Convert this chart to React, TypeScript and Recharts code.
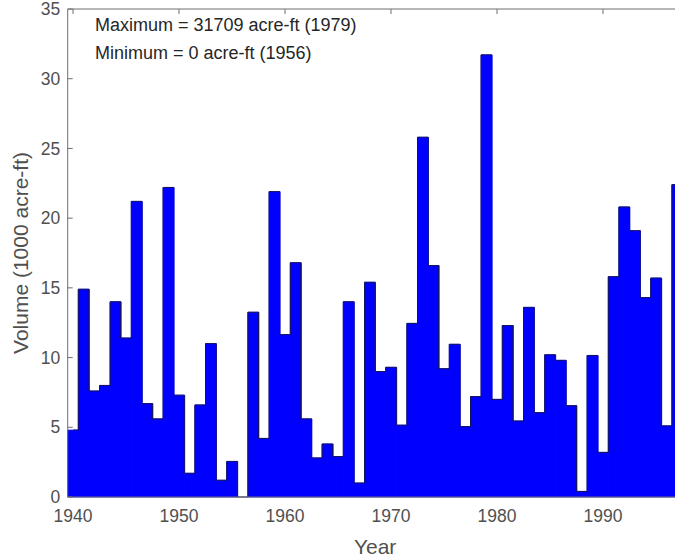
import { ComposedChart, Bar, Line, XAxis, YAxis, Label } from "recharts";

const years = [
  1940, 1941, 1942, 1943, 1944, 1945, 1946, 1947, 1948, 1949,
  1950, 1951, 1952, 1953, 1954, 1955, 1956, 1957, 1958, 1959,
  1960, 1961, 1962, 1963, 1964, 1965, 1966, 1967, 1968, 1969,
  1970, 1971, 1972, 1973, 1974, 1975, 1976, 1977, 1978, 1979,
  1980, 1981, 1982, 1983, 1984, 1985, 1986, 1987, 1988, 1989,
  1990, 1991, 1992, 1993, 1994, 1995, 1996, 1997,
];

// volume in 1000 acre-ft
const volumes = [
  4.8, 14.9, 7.6, 8.0, 14.0, 11.4, 21.2, 6.7, 5.6, 22.2,
  7.3, 1.7, 6.6, 11.0, 1.2, 2.55, 0, 13.25, 4.2, 21.9,
  11.65, 16.8, 5.6, 2.8, 3.8, 2.9, 14.0, 1.0, 15.4, 9.0,
  9.3, 5.15, 12.45, 25.8, 16.6, 9.2, 10.95, 5.05, 7.2, 31.709,
  7.0, 12.3, 5.45, 13.6, 6.05, 10.2, 9.8, 6.55, 0.4, 10.15,
  3.2, 15.8, 20.8, 19.1, 14.3, 15.7, 5.1, 22.4,
];

const yTicks = [0, 5, 10, 15, 20, 25, 30, 35];

const notes = ["Maximum = 31709 acre-ft (1979)", "Minimum = 0 acre-ft (1956)"];

const data = years.map((year, i) => ({ year, volume: volumes[i] }));

const axisGray = "#6e6e6e";
const textGray = "#505050";
const blue = "#0000ff";
const edge = "#14145a";

export default function App() {
  return (
    <div
      style={{
        position: "absolute",
        left: 0,
        top: 0,
        width: 675,
        height: 558,
        overflow: "hidden",
        background: "#fff",
        fontFamily: "'Liberation Sans', Arial, sans-serif",
      }}
    >
      <ComposedChart
        width={700}
        height={558}
        data={data}
        barCategoryGap={0}
        margin={{ top: 0, right: 17.5, bottom: 0, left: 0 }}
      >
        <XAxis
          dataKey="year"
          interval={9}
          height={61}
          tickLine={false}
          tickSize={0}
          tickMargin={13}
          axisLine={{ stroke: axisGray }}
          tick={{ fontSize: 17.5, fill: textGray }}
        >
          <Label
            value="Year"
            position="insideBottom"
            offset={4}
            style={{ fontSize: 21, fill: textGray }}
          />
        </XAxis>
        <XAxis
          xAxisId="top"
          orientation="top"
          dataKey="year"
          interval={9}
          height={9}
          tickSize={-5}
          tickFormatter={() => ""}
          axisLine={{ stroke: axisGray }}
          tickLine={{ stroke: axisGray }}
        />
        <YAxis
          domain={[0, 35]}
          ticks={yTicks}
          interval={0}
          width={67.7}
          tickSize={-5}
          tickMargin={12.5}
          axisLine={{ stroke: axisGray }}
          tickLine={{ stroke: axisGray }}
          tick={{ fontSize: 17.5, fill: textGray }}
        >
          <Label
            value="Volume (1000 acre-ft)"
            angle={-90}
            position="center"
            dx={-13}
            style={{ fontSize: 21, fill: textGray }}
          />
        </YAxis>
        <Bar
          dataKey="volume"
          fill={blue}
          stroke={blue}
          strokeWidth={0.8}
          isAnimationActive={false}
        />
        {/* stair outline like the matlab bar edges */}
        <Line
          dataKey="volume"
          type="step"
          stroke={edge}
          strokeWidth={1}
          dot={false}
          activeDot={false}
          isAnimationActive={false}
        />
      </ComposedChart>
      {notes.map((t, i) => (
        <div
          key={t}
          style={{
            position: "absolute",
            left: 95,
            top: 16 + i * 28,
            fontSize: 18,
            lineHeight: "18px",
            color: "#262626",
            whiteSpace: "nowrap",
          }}
        >
          {t}
        </div>
      ))}
    </div>
  );
}
